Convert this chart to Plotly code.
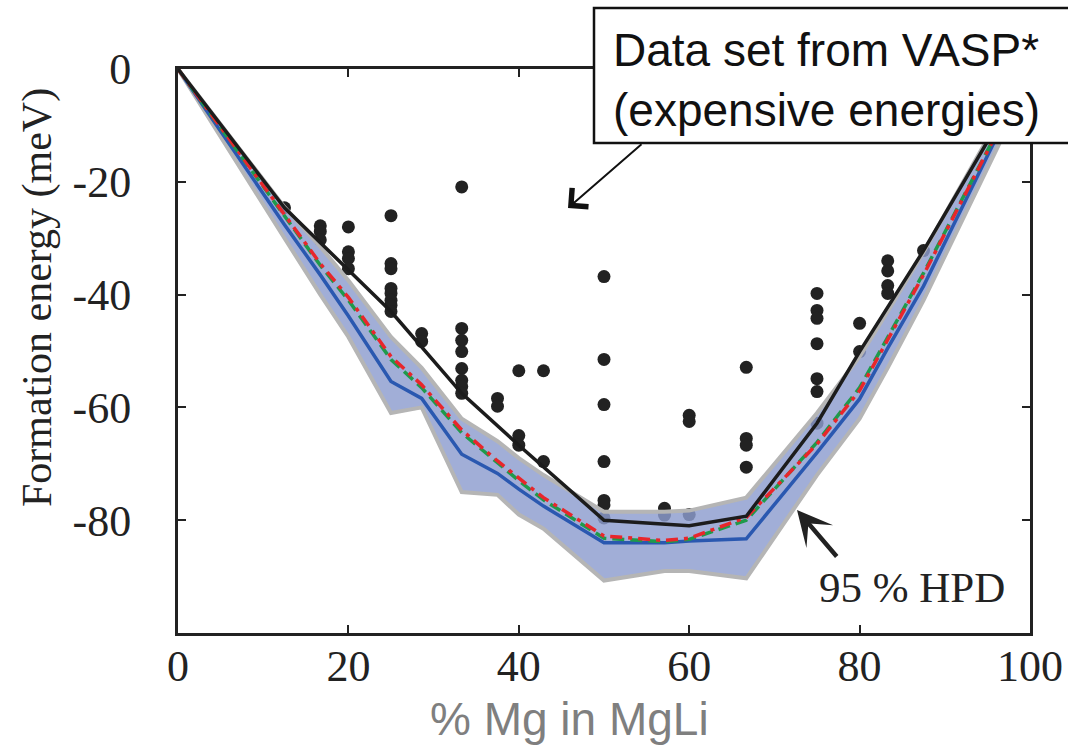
import plotly.graph_objects as go

# ---------------- data ----------------
dot_x = [12.5,
         16.7, 16.7, 16.7,
         20, 20, 20, 20,
         25, 25, 25, 25, 25, 25, 25, 25,
         28.6, 28.6,
         33.3, 33.3, 33.3, 33.3, 33.3, 33.3, 33.3, 33.3,
         37.5, 37.5,
         40, 40, 40,
         42.9, 42.9,
         50, 50, 50, 50, 50, 50, 50,
         57.1, 57.1,
         60, 60, 60,
         66.7, 66.7, 66.7, 66.7,
         75, 75, 75, 75, 75, 75, 75,
         80, 80,
         83.3, 83.3, 83.3, 83.3,
         87.5]
dot_y = [-24.6,
         -27.8, -28.8, -30.3,
         -28.0, -32.4, -33.6, -35.4,
         -26.0, -34.5, -35.4, -38.9, -39.8, -41.0, -41.9, -43.0,
         -46.9, -48.3,
         -20.9, -46.0, -48.1, -50.1, -53.1, -55.2, -56.3, -57.5,
         -58.4, -59.8,
         -53.5, -65.0, -66.7,
         -53.5, -69.6,
         -36.8, -51.5, -59.5, -69.6, -76.5, -77.3, -79.6,
         -77.9, -79.1,
         -61.4, -62.5, -79.0,
         -52.9, -65.5, -66.7, -70.6,
         -39.8, -42.8, -44.2, -48.7, -54.9, -57.2, -62.8,
         -45.1, -50.1,
         -34.0, -35.8, -38.4, -39.8,
         -32.2]

hull_x = [0, 12.5, 25, 33.3, 40, 50, 60, 66.7, 75, 80, 87.5, 100]
hull_y = [0, -24.6, -43.0, -57.5, -66.7, -80.0, -81.0, -79.3, -62.8, -50.1, -32.2, 0]

pred_x = [0, 12.5, 16.7, 20, 25, 28.6, 33.3, 37.5, 40, 42.9, 50, 57.1, 60, 66.7, 75, 80, 83.3, 87.5, 100]
blue_y = [0, -27.6, -36.5, -43.8, -55.4, -58.4, -68.3, -71.7, -74.5, -77.5, -84.0, -84.0, -83.7, -83.3, -68.0, -58.5, -49.5, -38.5, 0]
red_y = [0, -26.0, -34.5, -40.5, -51.0, -56.0, -64.0, -69.5, -72.5, -76.0, -82.8, -83.6, -83.2, -79.5, -66.5, -57.0, -48.0, -36.5, 0]
green_y = [0, -26.2, -34.8, -41.0, -51.5, -56.5, -64.5, -69.8, -73.0, -76.4, -83.2, -83.8, -83.4, -80.0, -66.2, -56.5, -47.5, -36.2, 0]
hpd_lower = [0, -30.0, -40.0, -47.5, -61.0, -60.0, -75.0, -75.5, -79.0, -81.5, -90.7, -89.0, -89.0, -90.3, -72.0, -62.0, -53.0, -41.0, -2.0]
hpd_upper = [0, -24.5, -31.5, -37.5, -47.5, -53.0, -62.0, -66.0, -69.0, -72.0, -78.5, -78.5, -78.3, -76.0, -61.0, -51.0, -43.0, -32.5, 1.0]

x_ticks = [0, 20, 40, 60, 80, 100]
x_ticklabels = ["0", "20", "40", "60", "80", "100"]
y_ticks = [0, -20, -40, -60, -80]
y_ticklabels = ["0", "-20", "-40", "-60", "-80"]

# ---------------- figure ----------------
fig = go.Figure()

fig.add_trace(go.Scatter(x=dot_x, y=dot_y, mode="markers",
                         marker=dict(color="#222222", size=13, line=dict(width=0)),
                         hoverinfo="skip"))

band_x = pred_x + pred_x[::-1]
band_y = hpd_upper + hpd_lower[::-1]
fig.add_trace(go.Scatter(x=band_x, y=band_y, mode="lines", fill="toself",
                         fillcolor="rgba(140,156,206,0.82)",
                         line=dict(color="#b5b5b5", width=4), hoverinfo="skip"))

fig.add_trace(go.Scatter(x=pred_x, y=blue_y, mode="lines",
                         line=dict(color="#2a58b0", width=3.5)))
fig.add_trace(go.Scatter(x=pred_x, y=green_y, mode="lines",
                         line=dict(color="#1f9a4b", width=3.5, dash="12px,6px")))
fig.add_trace(go.Scatter(x=pred_x, y=red_y, mode="lines",
                         line=dict(color="#e8262b", width=3.5, dash="12px,6px,4px,6px")))
fig.add_trace(go.Scatter(x=hull_x, y=hull_y, mode="lines",
                         line=dict(color="#1c1c1c", width=3.5)))

axis_common = dict(showline=True, linewidth=3, linecolor="#222222", mirror="ticks",
                   ticks="inside", ticklen=8, tickwidth=2, tickcolor="#222222",
                   showgrid=False, zeroline=False, automargin=False,
                   tickfont=dict(family="Liberation Serif", size=44, color="#222222"))

fig.update_xaxes(range=[0, 100], tickvals=x_ticks, ticktext=x_ticklabels,
                 ticklabelstandoff=-8, **axis_common)
fig.update_yaxes(range=[-100, 0], tickvals=y_ticks, ticktext=y_ticklabels,
                 ticklabelstandoff=35, **axis_common)

def px_x(p):
    return (p - 178) / 852.0

def px_y(p):
    return (633 - p) / 564.0

fig.add_shape(type="rect", xref="paper", yref="paper",
              x0=px_x(594), x1=px_x(1075), y0=px_y(143), y1=px_y(8),
              line=dict(color="#111111", width=2.5), fillcolor="white", layer="above")

annotations = [
    dict(text="Data set from VASP*<br>(expensive energies)", xref="paper", yref="paper",
         x=px_x(611), y=px_y(80), xanchor="left", yanchor="middle", align="left",
         showarrow=False, font=dict(family="Liberation Sans", size=46, color="#111111")),
    dict(text="", xref="x", yref="y", x=(568 - 178) / 8.52, y=-(208 - 69) / 5.64,
         ax=75, ay=-65, showarrow=True, arrowhead=4, arrowsize=2.4, arrowwidth=2,
         arrowcolor="#111111"),
    dict(text="", xref="x", yref="y", x=(797 - 178) / 8.52, y=-(510 - 69) / 5.64,
         ax=41, ay=48, showarrow=True, arrowhead=3, arrowsize=1.3, arrowwidth=4.5,
         arrowcolor="#222222"),
    dict(text="95 % HPD", xref="paper", yref="paper", x=px_x(912), y=px_y(587),
         xanchor="center", yanchor="middle", showarrow=False,
         font=dict(family="Liberation Serif", size=43, color="#222222")),
    dict(text="% Mg in MgLi", xref="paper", yref="paper", x=px_x(569), y=px_y(719),
         xanchor="center", yanchor="middle", showarrow=False,
         font=dict(family="Liberation Sans", size=46, color="#7f7f7f")),
    dict(text="Formation energy (meV)", xref="paper", yref="paper", x=px_x(37), y=px_y(298),
         xanchor="center", yanchor="middle", textangle=-90, showarrow=False,
         font=dict(family="Liberation Serif", size=42, color="#222222")),
]
fig.update_layout(annotations=annotations)

fig.update_layout(width=1068, height=746, autosize=False, showlegend=False,
                  margin=dict(l=178, r=38, t=69, b=113),
                  paper_bgcolor="white", plot_bgcolor="white")

fig.write_html("out.html", config={"displayModeBar": False},
               post_script="document.body.style.margin='0';document.body.style.overflow='hidden';")
